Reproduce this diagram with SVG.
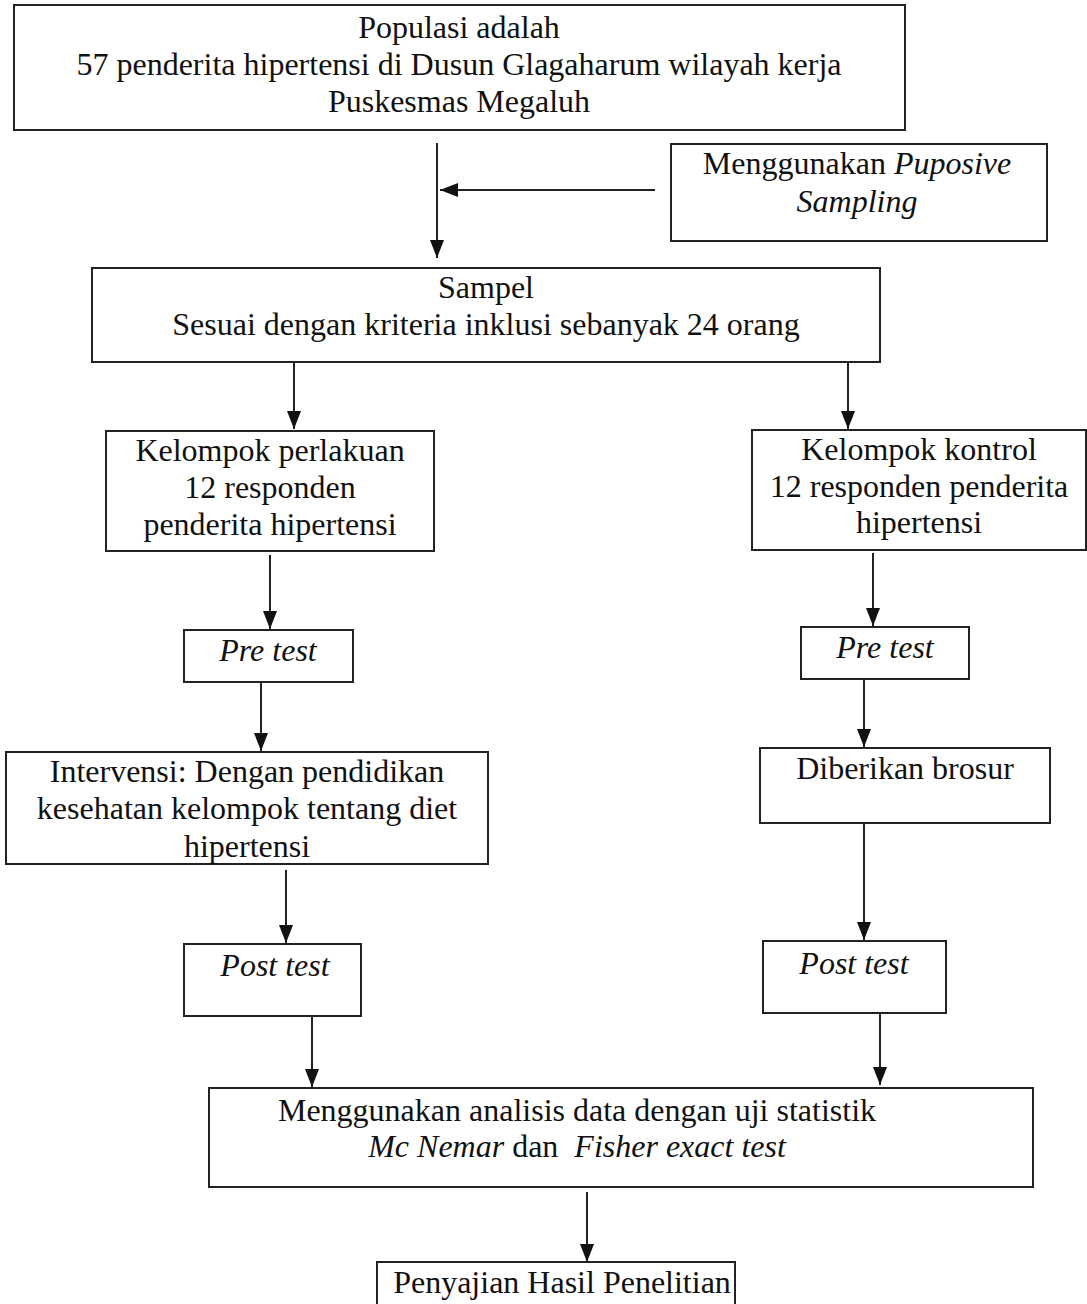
<svg xmlns="http://www.w3.org/2000/svg" width="1087" height="1304" viewBox="0 0 1087 1304">
<style>
.box{fill:#fff;stroke:#222;stroke-width:2}
.t{font-family:"Liberation Serif","Times New Roman",serif;font-size:32px;fill:#111;text-anchor:middle}
.i{font-style:italic}
.c{stroke:#222;stroke-width:2;fill:none}
</style>
<defs>
<marker id="ah" markerUnits="userSpaceOnUse" markerWidth="18" markerHeight="14" viewBox="0 0 18 14" refX="18" refY="7" orient="auto">
<path d="M0,0 L18,7 L0,14 Z" fill="#111"/>
</marker>
</defs>
<rect width="1087" height="1304" fill="#fff"/>
<g id="connectors">
<line class="c" x1="437" y1="143" x2="437" y2="258" marker-end="url(#ah)"/>
<line class="c" x1="655" y1="190" x2="440" y2="190" marker-end="url(#ah)"/>
<line class="c" x1="294" y1="362" x2="294" y2="429" marker-end="url(#ah)"/>
<line class="c" x1="848" y1="362" x2="848" y2="429" marker-end="url(#ah)"/>
<line class="c" x1="270" y1="555" x2="270" y2="629" marker-end="url(#ah)"/>
<line class="c" x1="873" y1="553" x2="873" y2="626" marker-end="url(#ah)"/>
<line class="c" x1="261" y1="679" x2="261" y2="751" marker-end="url(#ah)"/>
<line class="c" x1="864" y1="677" x2="864" y2="747" marker-end="url(#ah)"/>
<line class="c" x1="286" y1="870" x2="286" y2="943" marker-end="url(#ah)"/>
<line class="c" x1="864" y1="823" x2="864" y2="940" marker-end="url(#ah)"/>
<line class="c" x1="312" y1="1014" x2="312" y2="1087" marker-end="url(#ah)"/>
<line class="c" x1="880" y1="1012" x2="880" y2="1085" marker-end="url(#ah)"/>
<line class="c" x1="587" y1="1192" x2="587" y2="1262" marker-end="url(#ah)"/>
</g>
<g id="populasi">
<rect class="box" x="14" y="5" width="891" height="125"/>
<text class="t" x="459" y="38">Populasi adalah</text>
<text class="t" x="459" y="75">57 penderita hipertensi di Dusun Glagaharum wilayah kerja</text>
<text class="t" x="459" y="112">Puskesmas Megaluh</text>
</g>
<g id="sampling">
<rect class="box" x="671" y="144" width="376" height="97"/>
<text class="t" x="857" y="174">Menggunakan <tspan class="i">Puposive</tspan></text>
<text class="t i" x="857" y="212">Sampling</text>
</g>
<g id="sampel">
<rect class="box" x="92" y="268" width="788" height="94"/>
<text class="t" x="486" y="298">Sampel</text>
<text class="t" x="486" y="335">Sesuai dengan kriteria inklusi sebanyak 24 orang</text>
</g>
<g id="perlakuan">
<rect class="box" x="106" y="431" width="328" height="120"/>
<text class="t" x="270" y="461">Kelompok perlakuan</text>
<text class="t" x="270" y="498">12 responden</text>
<text class="t" x="270" y="535">penderita hipertensi</text>
</g>
<g id="kontrol">
<rect class="box" x="752" y="430" width="334" height="120"/>
<text class="t" x="919" y="460">Kelompok kontrol</text>
<text class="t" x="919" y="497">12 responden penderita</text>
<text class="t" x="919" y="533">hipertensi</text>
</g>
<g id="pretest-l">
<rect class="box" x="184" y="630" width="169" height="52"/>
<text class="t i" x="268" y="661">Pre test</text>
</g>
<g id="pretest-r">
<rect class="box" x="801" y="627" width="168" height="52"/>
<text class="t i" x="885" y="658">Pre test</text>
</g>
<g id="intervensi">
<rect class="box" x="6" y="752" width="482" height="112"/>
<text class="t" x="247" y="782">Intervensi: Dengan pendidikan</text>
<text class="t" x="247" y="819">kesehatan kelompok tentang diet</text>
<text class="t" x="247" y="857">hipertensi</text>
</g>
<g id="brosur">
<rect class="box" x="760" y="748" width="290" height="75"/>
<text class="t" x="905" y="779">Diberikan brosur</text>
</g>
<g id="posttest-l">
<rect class="box" x="184" y="944" width="177" height="72"/>
<text class="t i" x="275" y="976">Post test</text>
</g>
<g id="posttest-r">
<rect class="box" x="763" y="941" width="183" height="72"/>
<text class="t i" x="854" y="974">Post test</text>
</g>
<g id="analisis">
<rect class="box" x="209" y="1088" width="824" height="99"/>
<text class="t" x="577" y="1121">Menggunakan analisis data dengan uji statistik</text>
<text class="t" x="577" y="1157" xml:space="preserve"><tspan class="i">Mc Nemar</tspan> dan  <tspan class="i">Fisher exact test</tspan></text>
</g>
<g id="penyajian">
<rect class="box" x="377" y="1262" width="358" height="60"/>
<text class="t" x="562" y="1293">Penyajian Hasil Penelitian</text>
</g>
</svg>
